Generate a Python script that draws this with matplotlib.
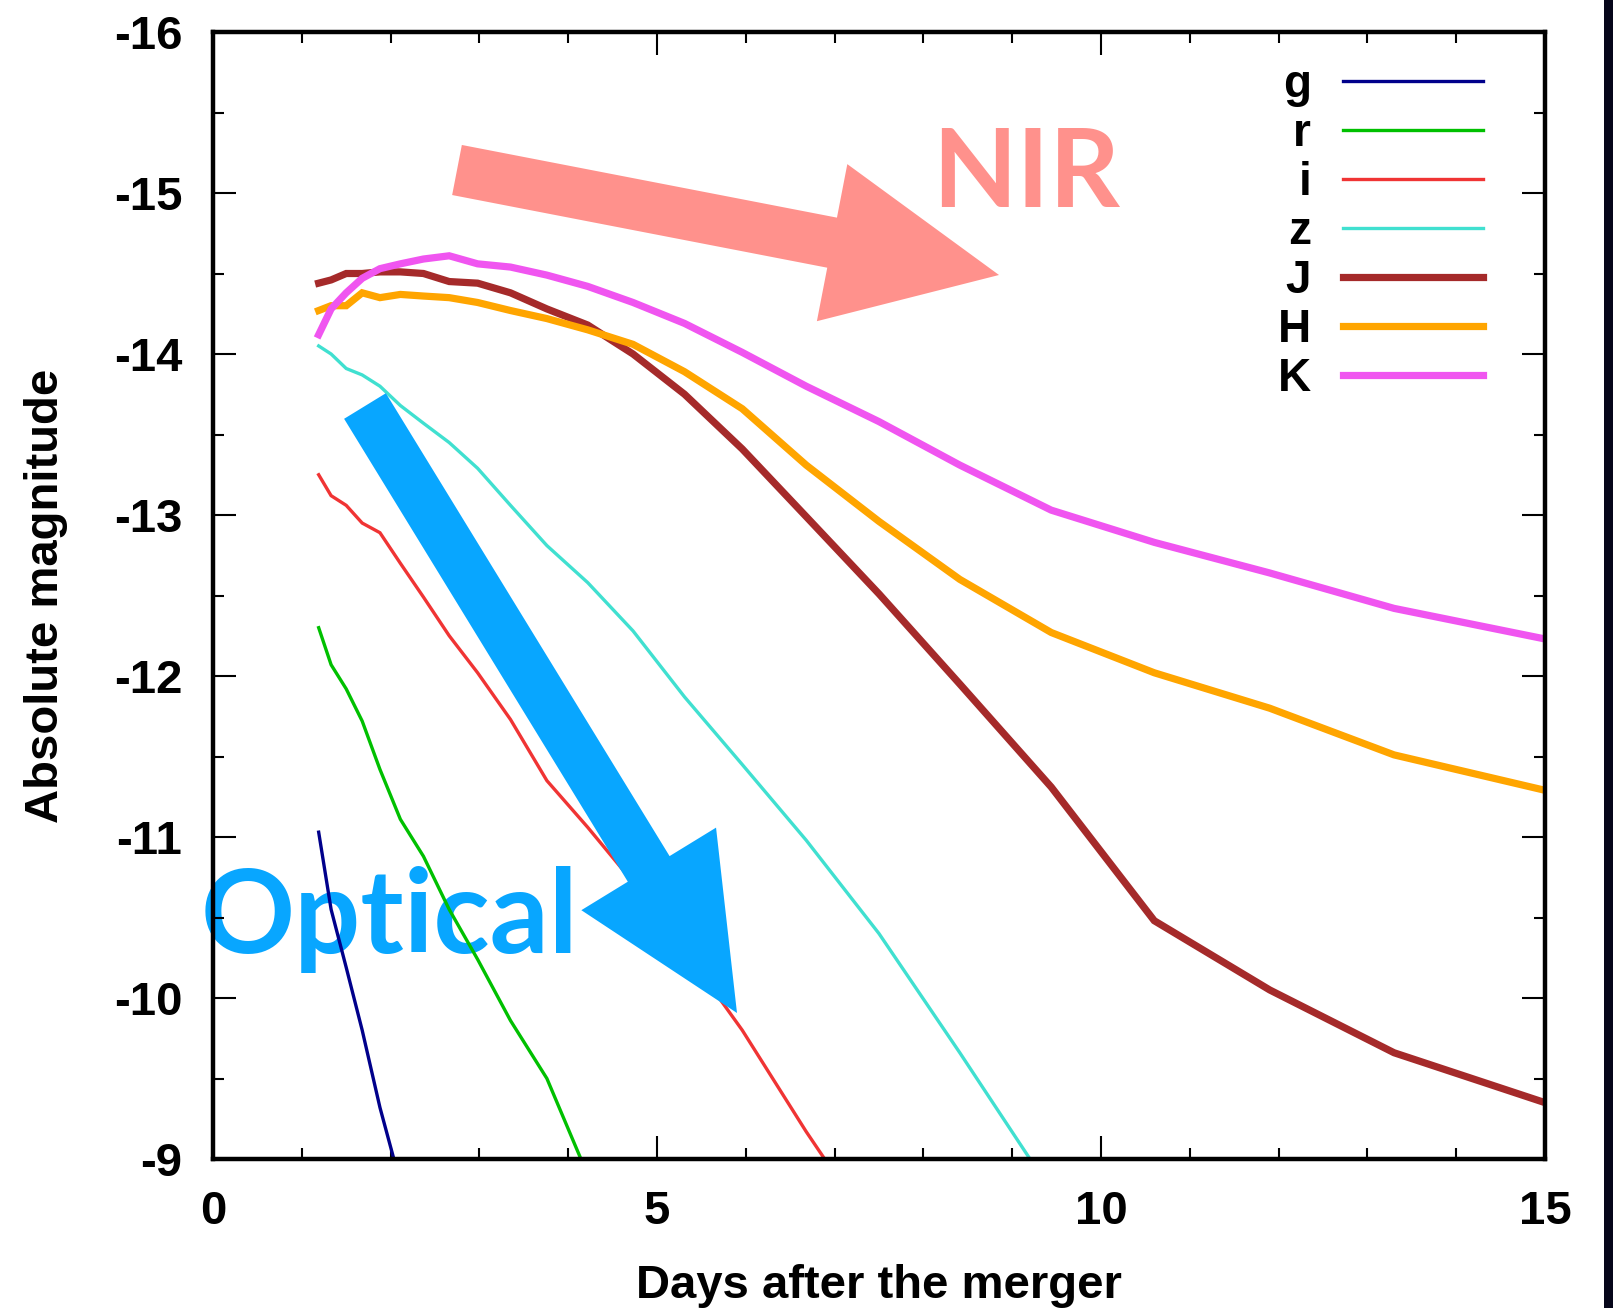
import numpy as np
import matplotlib
matplotlib.use("Agg")
import matplotlib.pyplot as plt
from matplotlib.patches import Polygon, Rectangle
from matplotlib.ticker import MultipleLocator

plt.rcParams['font.family'] = ['Liberation Sans', 'DejaVu Sans']
plt.rcParams['font.weight'] = 'bold'
plt.rcParams['axes.unicode_minus'] = False

# Light-curve data (days after merger, absolute magnitude)
days = [1.19, 1.33, 1.50, 1.68, 1.88, 2.11, 2.37, 2.66, 2.98, 3.35, 3.76, 4.22,
        4.73, 5.31, 5.96, 6.68, 7.50, 8.41, 9.44, 10.6, 11.9, 13.3, 15.0]

mag_g = [-11.03, -10.55, -10.19, -9.80, -9.32, -8.85]
mag_r = [-12.30, -12.07, -11.92, -11.72, -11.42, -11.11, -10.88, -10.55, -10.24,
         -9.86, -9.50, -8.90]
mag_i = [-13.25, -13.12, -13.06, -12.95, -12.89, -12.70, -12.49, -12.25, -12.02,
         -11.73, -11.35, -11.06, -10.72, -10.30, -9.80, -9.17, -8.50]
mag_z = [-14.05, -14.00, -13.91, -13.87, -13.80, -13.68, -13.57, -13.45, -13.29,
         -13.06, -12.81, -12.58, -12.28, -11.87, -11.45, -10.98, -10.40, -9.66, -8.80]
mag_J = [-14.44, -14.46, -14.50, -14.50, -14.51, -14.51, -14.50, -14.45, -14.44,
         -14.38, -14.28, -14.18, -14.00, -13.75, -13.41, -12.99, -12.51, -11.95,
         -11.31, -10.48, -10.05, -9.66, -9.35]
mag_H = [-14.27, -14.30, -14.30, -14.38, -14.35, -14.37, -14.36, -14.35, -14.32,
         -14.27, -14.22, -14.15, -14.06, -13.89, -13.66, -13.31, -12.96, -12.60,
         -12.27, -12.02, -11.80, -11.51, -11.29]
mag_K = [-14.12, -14.28, -14.38, -14.47, -14.53, -14.56, -14.59, -14.61, -14.56,
         -14.54, -14.49, -14.42, -14.32, -14.19, -14.01, -13.80, -13.58, -13.31,
         -13.03, -12.83, -12.64, -12.42, -12.23]

bands = ['g', 'r', 'i', 'z', 'J', 'H', 'K']
band_mags = [mag_g, mag_r, mag_i, mag_z, mag_J, mag_H, mag_K]
band_colors = ['#00008B', '#00C000', '#F03434', '#40E0D0', '#A52A2A', '#FFA500', '#F055F0']
band_widths = [2.4, 2.4, 2.4, 2.4, 5.2, 5.2, 5.2]

W, H = 1613, 1308
fig = plt.figure(figsize=(W / 100, H / 100), dpi=100)
ax = fig.add_axes([213 / W, 1 - 1159 / H, 1332 / W, 1127 / H])

for name, m, col, lw in zip(bands, band_mags, band_colors, band_widths):
    ax.plot(days[:len(m)], m, color=col, lw=lw, label=name, zorder=2,
            solid_joinstyle='miter')

ax.set_xlim(0, 15)
ax.set_ylim(-9, -16)
ax.xaxis.set_major_locator(MultipleLocator(5))
ax.xaxis.set_minor_locator(MultipleLocator(1))
ax.yaxis.set_major_locator(MultipleLocator(1))
ax.yaxis.set_minor_locator(MultipleLocator(0.5))
ax.tick_params(which='both', direction='in', top=True, right=True,
               labelsize=34, width=1.5)
ax.tick_params(which='major', length=16.5, pad=22)
ax.tick_params(which='minor', length=8)
for sp in ax.spines.values():
    sp.set_linewidth(3.2)

ax.set_xlabel('Days after the merger', fontsize=34, fontweight='bold')
ax.set_ylabel('Absolute magnitude', fontsize=34, fontweight='bold')
ax.xaxis.set_label_coords(0.5, -0.0935)
ax.yaxis.set_label_coords(-0.109, 0.5)

leg = ax.legend(loc='upper right', bbox_to_anchor=(1483 / W, 1 - 63 / H),
                bbox_transform=fig.transFigure, frameon=False, markerfirst=False,
                fontsize=33, handlelength=3.05, handletextpad=0.7,
                labelspacing=0.11, borderpad=0, borderaxespad=0)
for t in leg.get_texts():
    t.set_fontweight('bold')


def arrow_shape(tail, tip, width, head_width, head_length):
    # block arrow outline in pixel space (y down), returned in figure fraction
    t = np.array(tail, float)
    p = np.array(tip, float)
    d = p - t
    u = d / np.hypot(*d)
    n = np.array([-u[1], u[0]])
    b = p - u * head_length
    pts = [t + n * width / 2, b + n * width / 2, b + n * head_width / 2, p,
           b - n * head_width / 2, b - n * width / 2, t - n * width / 2]
    return [(x / W, 1 - y / H) for x, y in pts]


nir_color = '#FF918C'
opt_color = '#08A6FF'

ax.add_patch(Polygon(arrow_shape((457, 170), (999, 275), 51, 160, 170),
                     closed=True, facecolor=nir_color, edgecolor='none',
                     transform=fig.transFigure, clip_on=False, zorder=3))
ax.add_patch(Polygon(arrow_shape((365, 406), (737, 1013), 49, 158, 169),
                     closed=True, facecolor=opt_color, edgecolor='none',
                     transform=fig.transFigure, clip_on=False, zorder=3))

ax.text(932 / W, 1 - 207 / H, 'NIR', transform=fig.transFigure, color=nir_color,
        fontsize=79, fontweight='bold', family=['Lato', 'DejaVu Sans'],
        ha='left', va='baseline', zorder=3)
ax.text(201 / W, 1 - 953 / H, 'Optical', transform=fig.transFigure, color=opt_color,
        fontsize=84, fontweight='bold', family=['Lato', 'DejaVu Sans'],
        ha='left', va='baseline', zorder=1.5)

# dark strip at the right edge of the original image
fig.patches.append(Rectangle((1604 / W, 0), 9 / W, 1, transform=fig.transFigure,
                             facecolor='#06061A', edgecolor='none'))

fig.savefig('out.png', dpi=100)
